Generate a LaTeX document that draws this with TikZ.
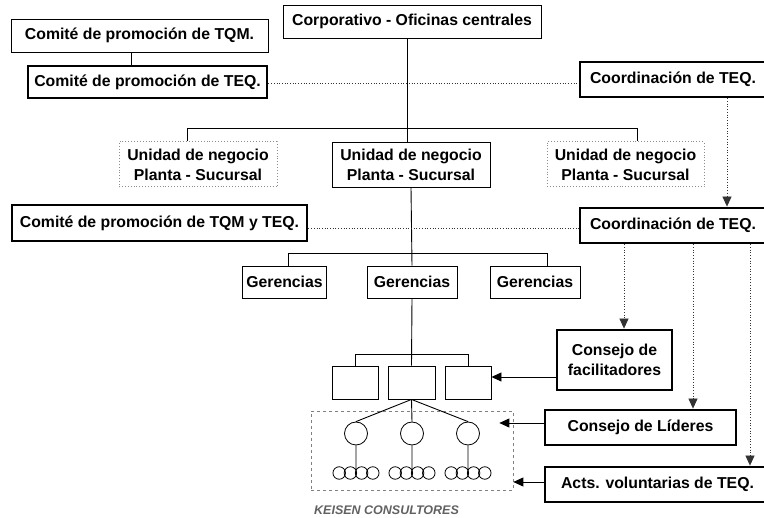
\documentclass[tikz,border=0pt]{standalone}
\usepackage{fontspec}
\setmainfont{Liberation Sans}
\usetikzlibrary{arrows.meta,calc}

\begin{document}
\begin{tikzpicture}[x=1pt, y=-1pt,
  box/.style={draw, line width=0.9pt, align=center, inner sep=0pt, font=\bfseries\fontsize{15.8}{20}\selectfont},
  thickbox/.style={box, line width=2.8pt},
  ghostbox/.style={box, draw=black!45, dotted, line width=1pt},
  link/.style={line width=0.9pt},
  dots/.style={dotted, line width=0.7pt, draw=black!80},
  arrow/.style={-{Triangle[length=10pt,width=9pt]}},
  bubble/.style={circle, draw, line width=0.8pt, inner sep=0pt}
]
\useasboundingbox (0,0) rectangle (764,518);

% top level
\node[box, minimum width=257, minimum height=33] (tqm) at (139.5,35.5) {Comité de promoción de TQM.};
\node[thickbox, minimum width=239, minimum height=32] (teqc) at (147.5,82) {Comité de promoción de TEQ.};
\node[box, minimum width=258, minimum height=33] (corp) at (412,21.5) {Corporativo - Oficinas centrales};
\node[thickbox, minimum width=186, minimum height=35] (coord1) at (673,79.5) {Coordinación de TEQ.};

% business units
\node[ghostbox, minimum width=158, minimum height=45] (u1) at (198,164.5) {Unidad de negocio\\Planta - Sucursal};
\node[box, minimum width=158, minimum height=45] (u2) at (411,164.5) {Unidad de negocio\\Planta - Sucursal};
\node[ghostbox, minimum width=157, minimum height=45] (u3) at (625.5,164.5) {Unidad de negocio\\Planta - Sucursal};
\node[thickbox, minimum width=295, minimum height=36] (comb) at (159.5,223) {Comité de promoción de TQM y TEQ.};
\node[thickbox, minimum width=186, minimum height=35] (coord2) at (673,225.5) {Coordinación de TEQ.};

% gerencias
\node[box, minimum width=84, minimum height=32] (g1) at (284.5,282) {Gerencias};
\node[box, minimum width=90, minimum height=32] (g2) at (412,282) {Gerencias};
\node[box, minimum width=90, minimum height=32] (g3) at (535,282) {Gerencias};

% small boxes and groups
\node[box, minimum width=46, minimum height=33] (b1) at (355,382.5) {};
\node[box, minimum width=47, minimum height=33] (b2) at (411.5,382.5) {};
\node[box, minimum width=46, minimum height=33] (b3) at (468,382.5) {};
\node[draw=black!50, dashed, line width=0.7pt, minimum width=202, minimum height=79] (grp) at (412,450.5) {};
\foreach \i/\g in {1/356,2/412,3/468} {
  \node[bubble, minimum size=23] (c\i) at (\g,433.5) {};
  \foreach \j in {1,...,4}
    \node[bubble, minimum size=12.5] (s\i\j) at ({\g+(\j-2.5)*11.2},473) {};
  \draw[link] (c\i.south) -- ($(s\i2.center)!0.5!(s\i3.center)+(0,-2.8)$);
  \draw[link] (b2.south) -- (c\i.north);
}

% councils
\node[thickbox, minimum width=115, minimum height=60] (fac) at (614.5,360) {Consejo de\\facilitadores};
\node[thickbox, minimum width=191, minimum height=35] (lid) at (640.5,427.5) {Consejo de Líderes};
\node[thickbox, minimum width=225, minimum height=35] (acts) at (657.5,484.5) {Acts. voluntarias de TEQ.};

\node[anchor=west, inner sep=0pt, text=black!62, font=\bfseries\itshape\fontsize{12.5}{14}\selectfont] (firma) at (314,510.5) {KEISEN CONSULTORES};

% solid connectors
\draw[link] ([xshift=-8.5pt]tqm.south) -- ([xshift=-8.5pt]tqm.south |- teqc.north);
\draw[link] ([xshift=-5pt]corp.south) -- ([xshift=-4pt]u2.north);
\draw[link] ([xshift=-11pt]u1.north) -- ++(0,-13) -| ([xshift=11.5pt]u3.north);
\draw[link] (u2.south) -- (g2.north);
\draw[link] ([xshift=4pt]g1.north) -- ++(0,-12) -| ([xshift=12pt]g3.north);
\draw[link] (g2.south) -- (b2.north);
\draw[link] (b1.north) -- ++(0,-11) -| (b3.north);

% dotted links
\draw[dots] ([yshift=-1.5pt]teqc.east) -- ([yshift=-1.5pt]teqc.east -| coord1.west);
\coordinate (cl) at ([yshift=-5pt]comb.east);
\draw[dots] (cl) -- (cl -| coord2.west);
\draw[dots, arrow] ([xshift=54pt]coord1.south) -- ([xshift=54pt]coord2.north);
\coordinate (f1) at ([xshift=-49pt]coord2.south);
\coordinate (f2) at ([xshift=20pt]coord2.south);
\coordinate (f3) at ([xshift=77pt]coord2.south);
\draw[dots, arrow] (f1) -- (f1 |- fac.north);
\draw[dots, arrow] (f2) -- (f2 |- lid.north);
\draw[dots, arrow] (f3) -- (f3 |- acts.north);

% arrows to the groups
\coordinate (fa) at ([yshift=-17pt]fac.west);
\draw[link, arrow] (fa) -- (fa -| b3.east);
\coordinate (la) at ([yshift=4.5pt]lid.west);
\draw[link, arrow] (la) -- ($(la -| grp.east)+(-14,0)$);
\coordinate (aa) at ([yshift=2.5pt]acts.west);
\draw[link, arrow] (aa) -- (aa -| grp.east);
\end{tikzpicture}
\end{document}
